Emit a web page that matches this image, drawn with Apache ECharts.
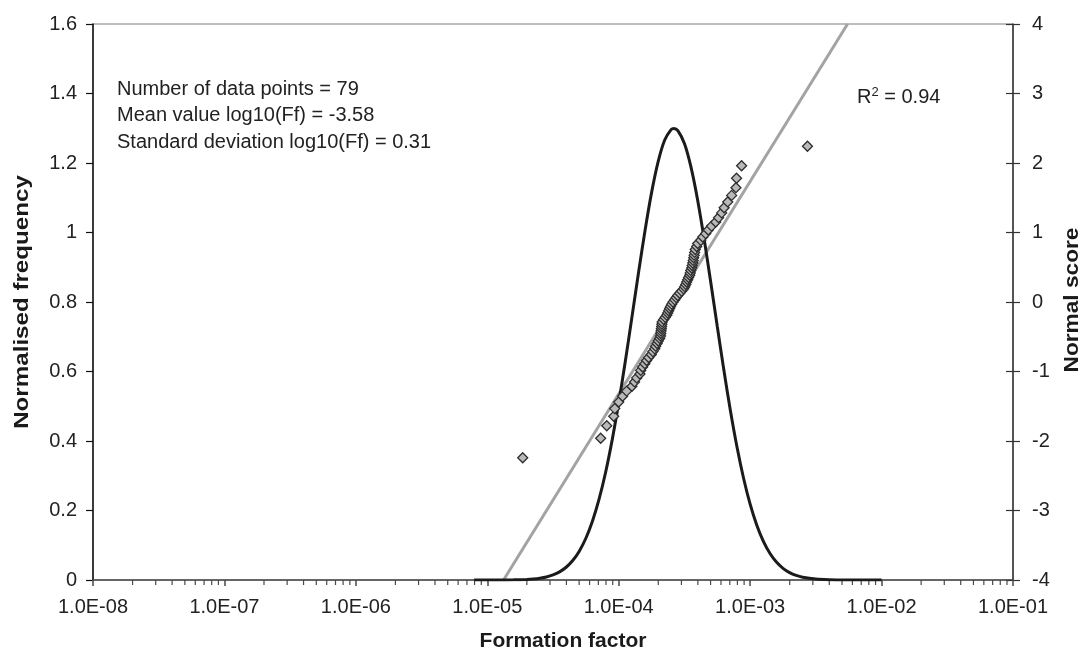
<!DOCTYPE html>
<html>
<head>
<meta charset="utf-8">
<script src="https://cdn.jsdelivr.net/npm/echarts@6/dist/echarts.min.js"></script>
<style>
  html, body { margin: 0; padding: 0; background: #ffffff; }
  #chart { width: 1088px; height: 662px; }
</style>
</head>
<body>
<div id="chart"></div>
<script>
// Formation factor of each sample, sorted ascending (79 samples)
const formationFactor = [
  1.86e-5, 7.29e-5, 8.11e-5, 9.16e-5, 9.33e-5, 1.00e-4, 1.07e-4, 1.15e-4, 1.26e-4, 1.32e-4,
  1.37e-4, 1.45e-4, 1.47e-4, 1.52e-4, 1.58e-4, 1.63e-4, 1.69e-4, 1.77e-4, 1.82e-4, 1.88e-4,
  1.91e-4, 1.96e-4, 2.00e-4, 2.05e-4, 2.08e-4, 2.09e-4, 2.10e-4, 2.11e-4, 2.12e-4, 2.13e-4,
  2.14e-4, 2.20e-4, 2.26e-4, 2.32e-4, 2.36e-4, 2.40e-4, 2.44e-4, 2.48e-4, 2.53e-4, 2.59e-4,
  2.67e-4, 2.74e-4, 2.81e-4, 2.91e-4, 3.01e-4, 3.12e-4, 3.18e-4, 3.24e-4, 3.29e-4, 3.35e-4,
  3.40e-4, 3.47e-4, 3.50e-4, 3.53e-4, 3.59e-4, 3.62e-4, 3.66e-4, 3.69e-4, 3.72e-4, 3.75e-4,
  3.78e-4, 3.82e-4, 3.92e-4, 3.99e-4, 4.21e-4, 4.36e-4, 4.59e-4, 4.80e-4, 5.09e-4, 5.47e-4,
  5.75e-4, 6.07e-4, 6.34e-4, 6.75e-4, 7.23e-4, 7.80e-4, 7.88e-4, 8.61e-4, 2.73e-3
];

// Normal score of each ranked sample
const normalScore = [
  -2.241, -1.960, -1.780, -1.645, -1.534, -1.440, -1.356, -1.282, -1.213, -1.150,
  -1.092, -1.036, -0.984, -0.935, -0.887, -0.842, -0.798, -0.755, -0.714, -0.674,
  -0.636, -0.598, -0.561, -0.524, -0.489, -0.454, -0.419, -0.385, -0.352, -0.319,
  -0.287, -0.253, -0.221, -0.189, -0.157, -0.126, -0.094, -0.063, -0.031, 0.000,
  0.031, 0.063, 0.094, 0.126, 0.157, 0.189, 0.221, 0.253, 0.287, 0.319,
  0.352, 0.385, 0.419, 0.454, 0.489, 0.524, 0.561, 0.598, 0.636, 0.674,
  0.714, 0.755, 0.798, 0.842, 0.887, 0.935, 0.984, 1.036, 1.092, 1.150,
  1.213, 1.282, 1.356, 1.440, 1.534, 1.645, 1.780, 1.960, 2.241
];

// Fitted line through the normal scores (end points)
const fitFormationFactor = [1.33e-5, 5.51e-3];
const fitScore = [-4, 4];

// Fitted normal distribution of log10(Ff)
const curveLog10Ff = [
  -5.1, -5.0, -4.9, -4.8, -4.7, -4.65, -4.6, -4.55, -4.5, -4.45, -4.4, -4.35, -4.3, -4.25,
  -4.2, -4.15, -4.1, -4.05, -4.0, -3.95, -3.9, -3.85, -3.8, -3.75, -3.7, -3.65, -3.6, -3.58,
  -3.55, -3.5, -3.45, -3.4, -3.35, -3.3, -3.25, -3.2, -3.15, -3.1, -3.05, -3.0, -2.95, -2.9,
  -2.85, -2.8, -2.75, -2.7, -2.65, -2.6, -2.5, -2.4, -2.3, -2.2, -2.1, -2.0
];
const curveFrequency = [
  0.0000, 0.0000, 0.0001, 0.0005, 0.0017, 0.0030, 0.0052, 0.0088, 0.0146, 0.0234, 0.0367, 0.0560, 0.0830, 0.1201,
  0.1692, 0.2319, 0.3094, 0.4025, 0.5097, 0.6286, 0.7550, 0.8827, 1.0052, 1.1148, 1.2039, 1.2662, 1.2967, 1.2995,
  1.2933, 1.2561, 1.1880, 1.0943, 0.9815, 0.8574, 0.7293, 0.6040, 0.4872, 0.3827, 0.2928, 0.2181, 0.1583, 0.1118,
  0.0769, 0.0515, 0.0336, 0.0214, 0.0132, 0.0080, 0.0027, 0.0008, 0.0002, 0.0000, 0.0000, 0.0000
];

// Annotations
const statsLines = [
  'Number of data points = 79',
  'Mean value log10(Ff) = -3.58',
  'Standard deviation log10(Ff) = 0.31'
];
const rSquared = '0.94';

// Decade range of the log axis
const xMinExp = -8;
const xMaxExp = -1;

const FONT = '"Liberation Sans", Arial, Helvetica, sans-serif';

const scatterData = formationFactor.map((v, i) => [v, normalScore[i]]);
const fitData = fitFormationFactor.map((v, i) => [v, fitScore[i]]);
const curveData = curveLog10Ff.map((e, i) => [Math.pow(10, e), curveFrequency[i]]);

// Minor ticks at 2..9 x 10^k on the log axis
const minorTicks = [];
for (let k = xMinExp; k < xMaxExp; k++) {
  for (let m = 2; m <= 9; m++) minorTicks.push([m * Math.pow(10, k), 0]);
}

function sciLabel(v) {
  const e = Math.round(Math.log10(v));
  return '1.0E' + (e < 0 ? '-' : '+') + String(Math.abs(e)).padStart(2, '0');
}

const chart = echarts.init(document.getElementById('chart'), null, { renderer: 'canvas' });

const tickText = { fontFamily: FONT, fontSize: 20, color: '#222' };

chart.setOption({
  animation: false,
  backgroundColor: '#ffffff',
  grid: {
    left: 93, right: 75, top: 24, bottom: 82,
    show: true, borderColor: '#7a7a7a', borderWidth: 1, backgroundColor: 'transparent'
  },
  xAxis: {
    type: 'log',
    logBase: 10,
    min: Math.pow(10, xMinExp),
    max: Math.pow(10, xMaxExp),
    splitNumber: 7,
    axisLine: { show: true, onZero: false, lineStyle: { color: '#4a4a4a', width: 1.5 } },
    axisTick: { show: true, length: 6, lineStyle: { color: '#4a4a4a', width: 1.5 } },
    axisLabel: Object.assign({ margin: 17, formatter: sciLabel }, tickText),
    splitLine: { show: false }
  },
  yAxis: [
    {
      type: 'value', position: 'left', min: 0, max: 1.6, interval: 0.2,
      axisLine: { show: true, lineStyle: { color: '#111', width: 1.5 } },
      axisTick: { show: true, length: 7, lineStyle: { color: '#111', width: 1.2 } },
      axisLabel: Object.assign({ margin: 16 }, tickText),
      splitLine: { show: false }
    },
    {
      type: 'value', position: 'right', min: -4, max: 4, interval: 1,
      axisLine: { show: true, lineStyle: { color: '#333', width: 1.5 } },
      axisTick: { show: true, length: 7, lineStyle: { color: '#333', width: 1.2 } },
      axisLabel: Object.assign({ margin: 19 }, tickText),
      splitLine: { show: false }
    },
    {
      // inward half of the crossing ticks on the right axis
      type: 'value', position: 'right', offset: 0, min: -4, max: 4, interval: 1,
      axisLine: { show: false },
      axisTick: { show: true, inside: true, length: 7, lineStyle: { color: '#333', width: 1.2 } },
      axisLabel: { show: false },
      splitLine: { show: false }
    }
  ],
  series: [
    {
      type: 'custom',
      name: 'minorTicks',
      xAxisIndex: 0, yAxisIndex: 0,
      silent: true, clip: false, z: 1,
      data: minorTicks,
      renderItem: function (params, api) {
        const p = api.coord([api.value(0), 0]);
        return {
          type: 'line',
          shape: { x1: p[0], y1: p[1], x2: p[0], y2: p[1] + 5 },
          style: { stroke: '#4a4a4a', lineWidth: 1.2 }
        };
      }
    },
    {
      type: 'line',
      name: 'Normal distribution',
      xAxisIndex: 0, yAxisIndex: 0,
      data: curveData,
      smooth: 0.25,
      showSymbol: false,
      lineStyle: { color: '#1b1b1b', width: 3 },
      z: 3
    },
    {
      type: 'line',
      name: 'Fit',
      xAxisIndex: 0, yAxisIndex: 1,
      data: fitData,
      showSymbol: false,
      lineStyle: { color: '#a3a3a3', width: 3 },
      z: 2
    },
    {
      type: 'scatter',
      name: 'Normal score',
      xAxisIndex: 0, yAxisIndex: 1,
      data: scatterData,
      symbol: 'diamond',
      symbolSize: [10, 10],
      itemStyle: { color: '#b9b9b9', borderColor: '#2e2e2e', borderWidth: 1.3, opacity: 1 },
      z: 4
    }
  ],
  graphic: [
    {
      type: 'group',
      children: statsLines.map((t, i) => ({
        type: 'text',
        x: 117, y: 89 + i * 26.7,
        style: { text: t, font: '20px ' + FONT, fill: '#222', verticalAlign: 'middle', align: 'left' }
      }))
    },
    {
      type: 'text',
      x: 857, y: 97,
      style: {
        text: '{r|R}{s|2}{r| = ' + rSquared + '}',
        verticalAlign: 'middle',
        rich: {
          r: { fontFamily: FONT, fontSize: 20, fill: '#222', color: '#222' },
          s: { fontFamily: FONT, fontSize: 13, fill: '#222', color: '#222', verticalAlign: 'top', padding: [0, 0, 10, 0] }
        }
      }
    },
    {
      type: 'text',
      x: 22, y: 302,
      rotation: Math.PI / 2,
      scaleX: 1.15,
      style: { text: 'Normalised frequency', font: 'bold 21px ' + FONT, fill: '#1a1a1a', align: 'center', verticalAlign: 'middle' }
    },
    {
      type: 'text',
      x: 1072, y: 300,
      rotation: Math.PI / 2,
      scaleX: 1.08,
      style: { text: 'Normal score', font: 'bold 21px ' + FONT, fill: '#1a1a1a', align: 'center', verticalAlign: 'middle' }
    },
    {
      type: 'text',
      x: 563, y: 641,
      style: { text: 'Formation factor', font: 'bold 21px ' + FONT, fill: '#1a1a1a', align: 'center', verticalAlign: 'middle' }
    }
  ]
});
</script>
</body>
</html>
